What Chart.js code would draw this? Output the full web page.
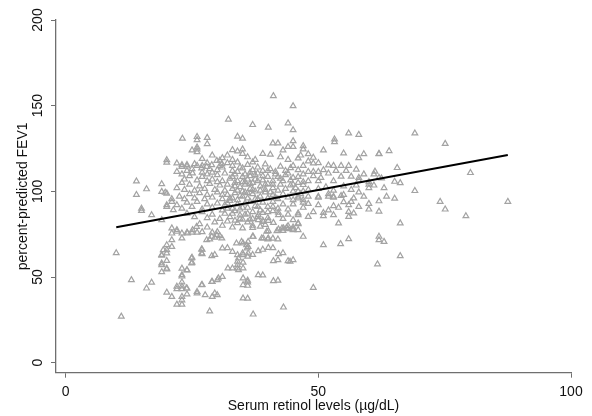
<!DOCTYPE html>
<html>
<head>
<meta charset="utf-8">
<script src="https://cdn.jsdelivr.net/npm/chart.js@4"></script>
<style>
  html, body { margin: 0; padding: 0; background: #ffffff; }
  #wrap { width: 592px; height: 416px; }
</style>
</head>
<body>
<div id="wrap"><canvas id="scatterChart"></canvas></div>
<script>
// ------------------------------------------------------------
// Serum retinol vs percent-predicted FEV1 (scatter + linear fit)
// ------------------------------------------------------------

// [retinol µg/dL, FEV1 %]
var retinolFev1 = [
  // sparse left edge
  [10,64],[11,27],[13,48.3],[16,43.4],[17,46.8],[15,88.7],[17,86.2],[14,105.9],[14,98],[16,101.3],
  [15,90],[19,104.3],[19,99.8],[20,98.8],[20,92],[21,94],[21,95.5],[19.7,99.3],[21.3,89.1],[20,91],
  // upper left
  [20,118.3],[20,116.8],[22,116.4],[23,114.4],[24,114.6],[23,115.4],[24,115.5],[22,111.5],[23,110],[23,105],
  [25.1,110.6],[23.1,130.8],[25,124],[26,124.5],[26,123],[26,125.7],[26,131.8],[26,130],[28,131.3],[28,127.7],
  [25,113],[26,115],[27,115],[28,116.5],[26.9,113.5],[27.9,114.4],[28.9,115.4],[29.9,117.9],[30.9,116],[30.5,118],
  [30.5,115],[32.2,142],[32,121],[33,124.2],[34,123.4],[35,124.6],[35,122],[34,132],[35,130.8],[33,115],
  // upper middle / right
  [37,138.8],[40.1,137.3],[39,122],[41.1,155.7],[41,128.1],[42,128.1],[43,124],[44,126],[44,139.8],[45,149.8],
  [45,135.8],[45,129.4],[45,126],[47,126.5],[47,124.6],[48,121.8],[49,119.7],[46,119.3],[48,117.6],[49,116.4],
  [50,116.6],[52,115.2],[51,124],[53.2,130.4],[53.2,128.8],[56,133.9],[58,133.1],[55,122.2],[58,119.5],[59,121.8],
  [62,121.8],[64,123.6],[69.1,133.9],[75.1,127.8],[53,115],[54.5,115],[56,115],[45,115],[48,111.5],[49,111.5],
  [50,111.5],[49,109],[52,110.5],[54.5,108.7],[56.5,108.7],[53,106],[50,106],[58,108],[58,106.5],[59,110],
  [60,105.5],[60,104],[61.2,111.6],[62,108],[60,102],[65.6,113.7],[65.1,105.7],[66.2,104.9],[69.1,100.3],[65.1,95.8],
  [74.1,94],[80.1,110.8],[87.5,94],[47,105.5],[47,103.8],[45,104],[48,101],[47,100],[46,100],[45,100],
  [50,97],[52,98.5],[52,97],[53,97],[54.5,97.4],[56.5,94],[62,94.3],[46,97],[47,95],[61,110],
  [62.5,107.6],[62,122],
  // right, below the line
  [50,96.4],[53,96.4],[45,95],[46,96],[47,93.5],[48,97],[46,87.2],[45,83.3],[46,81.4],[45,77.5],
  [48,85.2],[51,85.6],[53,86.2],[56,88.1],[56,85.2],[57,87.2],[54,81.4],[62,88.3],[66.2,81.4],[75.1,89.5],
  [79.2,85.6],[47,73.6],[51,68.7],[54.4,69.3],[56,72.2],[62,73.6],[62,71.6],[63,70.6],[66.2,62.3],[61.7,57.5],
  [49,43.8],[44.4,59],
  // middle, lower
  [37.1,28.2],[43.1,32.3],[41.1,47.7],[38.1,51.2],[35.1,49.3],[35.1,45.4],[35.1,37.6],[35.1,58.5],[41.1,59.4],[44,59.4],
  [42.1,63.5],[38.1,65.2],[40.1,67.1],[39.1,72.6],[40.1,72.6],[37,73.6],[37,78.8],[40.1,76.9],[42.1,77.9],[43.1,78.5],
  [44,79.8],[45,77.9],[46,81],[35.1,69.7],[36.1,70.6],[36.1,67.7],[35.1,62.9],[36.1,63.9],[38.1,83.3],[39.1,82.3],
  [40.1,82.9],[41.1,81.7],[38.1,86.2],[42.1,86.2],[42.1,87.6],[46,86.2],
  // left, lower
  [19,83.3],[21,78.5],[22,76.5],[23,75.5],[24,76],[25,76],[26,76],[27,76.3],[23,72.6],[20,68.7],
  [21,71.6],[20,65.8],[19,63],[19,58],[20,55],[19,53],[23,55],[24,54],[23,50.4],[23,47],
  [23,44.6],[23,43],[22,43],[24,43.4],[23,38.5],[23,36.5],[22,34],[23,34],[24,40],[20,41],
  [21,38.5],[26,40.5],[26,41.4],[25,61.4],[25,58.5],[27,63.5],[27,66],[28.5,72],[29.5,73],[30.5,74],
  [29,76],[30,76.3],[29.5,63],[30,39.5],[29,38.5],[28.5,30],[27,45.5],[29,47.3],[30,48.3],[31,50.2],
  [32,67],[31,66.8],[33,64.8],[34,62.9],[35,63.9],[36,62],[37,63],[33,55.1],[32.1,55.1],[34,55.1],
  [34,57],[34,59],[34.2,61],[35.1,55.1],[36,48],[36,45],[36,47],[36,37.5],[39,51],[41,67],
  [39,66],[42,48],[42,60],[43,64],[45,60],[40,72],[41,72.5],[42,72],[43,77],[44,78],
  [45,79],[46,77.5],[21,67.7],[20,63.9],[19,62.5],[20,54.5],[24,54.1],[23,51.2],[24.9,58],[24.9,61],
  [26.9,66.2],[26.9,63.9],[28.9,62.3],[26.9,45.4],[22,44.4],[23.9,43.4],[27.6,39.5],[29.5,40.5],[19.3,65.8],[19,57],
  [20,59.5],[21,75.5],[22,77.5],[24.1,75.5],[25.1,77.5],[25.9,79.4],[27.9,71.6],[28.9,73.6],[29.9,74.5],[30.9,72.6],
  [33.8,69.7],[34.8,70.6],[35.8,68.7],[35.9,66.8],[37.1,73.6],[34.2,54.1],[38.8,72.6],[39.8,76.5],[41.8,76.9],[42.8,78.5],
  [43.7,78.8],[30.2,49.3],[28.9,47.3],
  // dense core
  [24,112],[25.5,116],[27,111],[28.5,113],[30,112.5],[31,114],[32,116.5],[33,112],[34,117],[35,113.5],
  [36,115.5],[36.5,111],[37,117],[38,114],[39,112],[39.5,115.8],[40.5,113],[41.5,111.5],[42.5,114.5],[43.5,112],
  [44.5,113.6],[46,112.5],[47,115],
  [23.5,107],[24.5,109],[26,106.5],[27,108.5],[28,110],[29,107],[30,109.5],[31,106],[31.5,110.5],[32.5,107.5],
  [33.5,110],[34,106],[35,108.5],[35.5,105.5],[36.5,109],[37.5,107],[38,110.5],[39,106.5],[40,108.5],[41,106],
  [41.5,110],[42.5,107.5],[43.5,109.5],[44.5,106.5],[46,108.5],[47,110],
  [22,102],[23.5,101],[24.5,104],[25.5,100.5],[26.5,103],[27.5,101.5],[28.5,104.5],[29.5,101],[30.5,103.5],[31.5,100.5],
  [32,104],[33,101.5],[33.5,105],[34.5,102.5],[35,100],[35.5,104],[36.5,101.5],[37,105],[37.5,100],[38.5,103],
  [39.5,101],[40,104.5],[41,102],[42,100.5],[42.5,104],[43.5,101.5],[44.5,103.5],[45.5,102],
  [22.5,97],[23.5,95.5],[24.5,98.5],[25.5,96],[26.5,99],[27.5,95.5],[28,98],[29,96.5],[30,99.5],[31,95.5],
  [32,98],[32.5,96],[33.5,99],[34,95],[34.5,97.5],[35.5,99.5],[36,96],[37,98.5],[37.5,95.5],[38.5,97],
  [39.5,99.5],[40,96],[41,98],[42,95.5],[43,98.5],[44,96.5],
  [22,92],[23,90],[24,93.5],[25,91],[26,94],[27,89.5],[28,92.5],[29,90.5],[30,93],[31,89],
  [31.5,92],[32.5,94.5],[33,90],[34,92.5],[34.5,89.5],[35.5,93],[36,90.5],[36.5,94],[37.5,91.5],[38.5,89],
  [39,93.5],[40,91],[41,94],[42,90],[43,92.5],[44,89.5],[45,92.5],[47,90.5],[48,92.8],
  [24,87],[25.5,85],[27,88],[28,84.5],[29,86.5],[30.5,84],[31.5,87],[32.5,85],[33.5,88.5],[34.5,84],
  [35.5,86.5],[36.5,83.5],[37,88],[38,85],[39,87.5],[40,84.5],[41,88.5],[43,84],[44,86.5],
  [26.5,81],[28,79],[29.5,82],[31,80],[32,82.5],[33,79],[34,81.5],[35,78.5],[36,82],[37,80],
  [38.5,79.5],[39.5,80.5],[33.5,83],[35,83.5],
  [27,119],[29,121],[31,119.5],[33,118.5],[36,120],[37.5,118.5],[40.5,121.5],[42.5,120],[44,118.5],[46.5,121],
  // extra weight in the very centre
  [33,108.5],[33.5,103],[34,100.5],[34,111.5],[34.5,114],[35,97],[35,105.5],[35.5,110],[36,107],[36,99],
  [36.5,104.5],[37,101],[37,112.5],[37.5,109.5],[38,95.5],[38,106],[38.5,100.5],[39,109],[39.5,104],[40,112],
  [40.5,99.5],[41,104],[41.5,96.5],[42,108.5],[43,106],[44,110.5],[45,108],[46,105],[46.5,98.5],[33,96],
  [32,93],[31,98],[30,105.5],[29,111],[28,106],[34.5,86],[35,90.5],[36,87],[37,84],[38,91],
  [39,83],[40,88],[41,91],[33,87],[32,90],
  // right of the core
  [50,101.5],[51.5,102.5],[53,100.5],[55,103],[56.5,101],[58,99.5],[59,97],[57,96],[55,98],[50,92],
  [52,89],[54,90.5],[56,92],[58,91],[60,89.5],[49,88],[51,87.5],[53,91.5],[55,93.8],[57.5,103.5],
  [48,106],[50.5,108],[51,112.5],[53.5,112],[55.5,112],[57.5,112.8],[61,103.5],[63,102],[63.5,97],[60,92.8]
];

// fitted line end points
var fitX = [10, 87.5];
var fitY = [79, 121.2];

// axis ticks
var xTicks = [0, 50, 100];
var yTicks = [0, 50, 100, 150, 200];

var AXIS_GRAY = '#6f6f6f';
var MARK_GRAY = '#a3a3a3';

Chart.defaults.font.family = "'Liberation Sans', Arial, sans-serif";
Chart.defaults.font.size = 14;
Chart.defaults.color = '#111111';

var points = retinolFev1.map(function(p) { return { x: p[0], y: p[1] }; });
var fitLine = fitX.map(function(x, i) { return { x: x, y: fitY[i] }; });

function fixedTicks(values) {
  return function(scale) {
    scale.ticks = values.map(function(v) { return { value: v }; });
  };
}

var ctx = document.getElementById('scatterChart').getContext('2d');
new Chart(ctx, {
  type: 'scatter',
  data: {
    datasets: [
      {
        type: 'line',
        data: fitLine,
        borderColor: '#000000',
        borderWidth: 2,
        pointRadius: 0,
        fill: false,
        order: 0
      },
      {
        data: points,
        pointStyle: 'triangle',
        pointRadius: 3.3,
        borderWidth: 1.2,
        borderColor: MARK_GRAY,
        backgroundColor: 'rgba(0,0,0,0)',
        order: 1
      }
    ]
  },
  options: {
    responsive: true,
    maintainAspectRatio: false,
    animation: false,
    layout: { padding: { left: 0, right: 21, top: 20, bottom: 0 } },
    plugins: {
      legend: { display: false },
      tooltip: { enabled: false }
    },
    scales: {
      x: {
        min: -1.92,
        max: 100,
        afterBuildTicks: fixedTicks(xTicks),
        afterFit: function(scale) { scale.height = 43.3; },
        border: { display: true, color: AXIS_GRAY, width: 1.3 },
        grid: { display: true, drawOnChartArea: false, tickLength: 5, color: AXIS_GRAY, tickColor: AXIS_GRAY },
        ticks: { padding: 6, maxRotation: 0 },
        title: {
          display: true,
          text: 'Serum retinol levels (µg/dL)',
          padding: { top: 1, bottom: 1 },
          font: { size: 14 }
        }
      },
      y: {
        min: -5.84,
        max: 200,
        afterBuildTicks: fixedTicks(yTicks),
        afterFit: function(scale) { scale.width = 56; },
        border: { display: true, color: AXIS_GRAY, width: 1.3 },
        grid: { display: true, drawOnChartArea: false, tickLength: 5, color: AXIS_GRAY, tickColor: AXIS_GRAY },
        ticks: { padding: 1, minRotation: 90, maxRotation: 90, crossAlign: 'center' },
        title: {
          display: true,
          text: 'percent-predicted FEV1',
          padding: { top: 15, bottom: 15 },
          font: { size: 14 }
        }
      }
    }
  }
});
</script>
</body>
</html>
